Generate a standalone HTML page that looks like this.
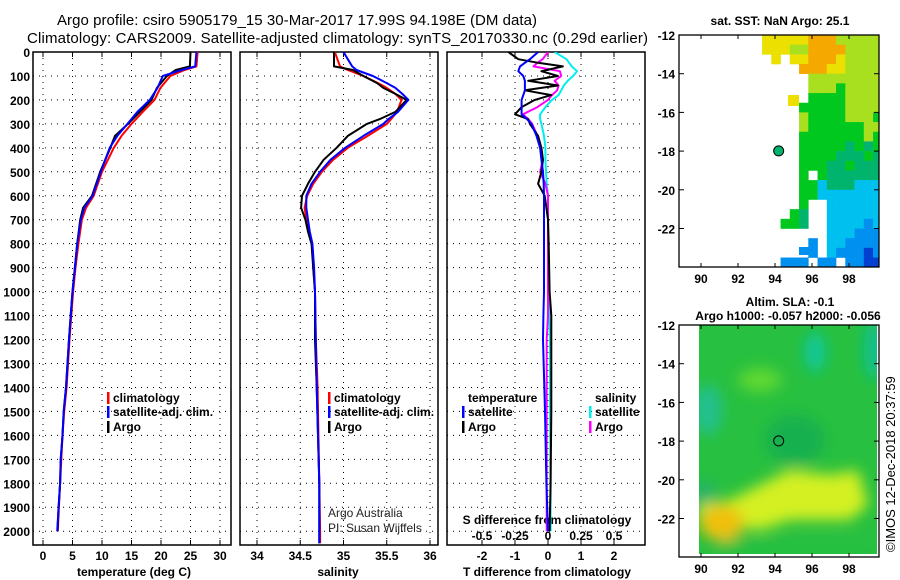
<!DOCTYPE html>
<html><head><meta charset="utf-8"><style>
body{margin:0;background:#fff}
svg{display:block;font-family:"Liberation Sans",sans-serif}
.b{font-weight:bold;font-size:12px}
</style></head><body>
<svg id="s" width="900" height="580" viewBox="0 0 900 580">
<defs>
<clipPath id="cp1"><rect x="33" y="52" width="198" height="493"/></clipPath>
<clipPath id="cp2"><rect x="240" y="52" width="198" height="493"/></clipPath>
<clipPath id="cp3"><rect x="447" y="52" width="198" height="493"/></clipPath>
<clipPath id="cpm"><rect x="699" y="325" width="178" height="229"/></clipPath>
<clipPath id="cps"><rect x="679" y="35" width="200" height="232"/></clipPath>
<filter id="bl" x="-50%" y="-50%" width="200%" height="200%"><feGaussianBlur stdDeviation="7"/></filter>
</defs>
<text x="57" y="25" font-size="15" textLength="480">Argo profile: csiro 5905179_15 30-Mar-2017 17.99S 94.198E (DM data)</text>
<text x="27" y="43" font-size="15" textLength="621">Climatology: CARS2009. Satellite-adjusted climatology: synTS_20170330.nc (0.29d earlier)</text>
<g id="g"></g>
</svg>
<script>
// ---- data ----
const tDepth = [0,60,75,100,150,200,250,300,350,400,500,600,650,700,800,900,1000,1100,1200,1400,1500,1600,1700,1800,1900,2000];
const tArgo  = [25.0,24.9,22.5,21.0,19.3,18.4,16.4,14.4,12.2,11.4,9.7,8.3,6.8,6.3,5.8,5.4,5.0,4.7,4.4,3.9,3.5,3.3,3.0,2.9,2.65,2.45];
const tClim  = [26.2,26.0,24.0,21.6,19.9,18.9,16.9,15.0,13.3,12.0,10.0,8.6,7.3,6.6,6.0,5.5,5.1,4.8,4.5,4.0,3.6,3.3,3.1,2.9,2.7,2.5];
const tSat   = [26.0,25.8,23.5,20.3,19.4,18.1,16.0,14.3,12.6,11.3,9.8,8.4,7.0,6.4,5.8,5.4,5.0,4.7,4.4,3.9,3.5,3.3,3.0,2.9,2.65,2.4];
const sDepth = [0,30,60,75,100,130,150,175,200,250,280,300,350,400,450,500,550,600,650,700,750,800,900,1000,1200,1400,1800,2000,2050];
const sArgo  = [34.89,34.89,34.89,35.11,35.23,35.39,35.46,35.6,35.73,35.6,35.42,35.27,35.05,34.92,34.77,34.67,34.59,34.52,34.51,34.56,34.59,34.63,34.65,34.67,34.67,34.69,34.72,34.72,34.72];
const sClim  = [34.90,34.93,34.96,35.05,35.23,35.4,35.5,35.6,35.67,35.62,35.55,35.5,35.28,35.05,34.88,34.75,34.65,34.58,34.55,34.57,34.6,34.64,34.65,34.67,34.68,34.7,34.72,34.73,34.73];
const sSat   = [35.0,35.05,35.1,35.15,35.34,35.5,35.6,35.68,35.75,35.63,35.52,35.46,35.23,35.02,34.85,34.73,34.63,34.57,34.57,34.59,34.61,34.64,34.66,34.67,34.68,34.69,34.72,34.72,34.72];
const dDepth = [0,30,45,60,80,100,120,140,160,180,200,230,260,280,300,350,400,450,500,550,600,650,700,800,1000,1100,1200,1500,1800,2000];
const dTArgo = [-1.2,-0.9,-0.3,0.45,-0.2,0.3,-0.6,0.3,-0.7,0.1,-0.4,-0.8,-1.0,-0.6,-0.55,-0.3,-0.2,-0.15,-0.2,-0.3,-0.1,-0.05,0,0.02,0.05,0.1,0.1,0.1,0.08,0.05];
const dTSat  = [-0.3,-0.55,-0.7,-0.85,-0.9,-0.75,-0.7,-0.7,-0.7,-0.75,-0.8,-0.8,-0.8,-0.64,-0.5,-0.35,-0.24,-0.2,-0.15,-0.13,-0.12,-0.12,-0.12,-0.12,-0.12,-0.14,-0.15,-0.09,-0.05,0];
const dSArgo = [0,-0.04,-0.08,-0.11,0.09,0.1,0.05,0.08,0.07,0.03,0,-0.08,-0.19,-0.15,-0.12,-0.08,-0.06,-0.04,-0.06,-0.02,0,0,0,0,0,0,-0.01,-0.01,-0.01,-0.01];
const dSSat  = [0.05,0.14,0.16,0.18,0.22,0.19,0.15,0.12,0.1,0.08,0.03,-0.02,-0.06,-0.06,-0.05,-0.03,-0.02,-0.02,-0.015,-0.01,0,0,0,0,0.01,0.01,0.015,0.015,0.02,0.02];
const depthTicks = [0,100,200,300,400,500,600,700,800,900,1000,1100,1200,1300,1400,1500,1600,1700,1800,1900,2000];
const tTicks = [0,5,10,15,20,25,30];
const sTicks = [34,34.5,35,35.5,36];
const sTickLabels = ["34","34.5","35","35.5","36"];
const dTTicks = [-2,-1,0,1,2];
const dSTicks = [-0.5,-0.25,0,0.25,0.5];
const latTicks = [-12,-14,-16,-18,-20,-22];
const lonTicks = [90,92,94,96,98];
// SST grid rows (-12 to -24, 0.5 deg), cols from lon 93.3 in 0.5 deg steps
const sstRows = [
"yyyyyooolllll","yyylloooollll",".y.yyoooyllll","....oooyyllll",".....llllllll",".....lllgllll",".....ggggllll","....gggggllll",
"....lgggglllg","....lggggggll","....ggggggglg","....gggggtgtg","....ggggtttgt","....gggttgttt","....g.gtttttt","....ggctttccc",
"....ggccccccc","....g..cccccc","...gt..cccccc","..ggt..ccccbc",".......cccbbb",".....b.ccbbbb",".....b.cbbbdb","..bbb.bb.bbdd"];
const sstCol = {o:"#f5a800",y:"#ebe000",l:"#a8e020",g:"#00c81e",t:"#00b46e",c:"#00c0f0",b:"#0090f0",d:"#0040d0"};

const NS="http://www.w3.org/2000/svg", G=document.getElementById('g');
function el(t,a,p){const e=document.createElementNS(NS,t);for(const k in a)e.setAttribute(k,a[k]);(p||G).appendChild(e);return e;}
const yD = d => 52 + d*0.2396;
const xT = v => 43 + v*5.9;
const xS = v => 257 + (v-34)*86.5;
const xDT = v => 548 + v*33;
const xDS = v => 548 + v*132;
const xLon = l => 701 + (l-90)*18.5;
const yLat1 = l => 35 + (-12-l)*19.35;
const yLat2 = l => 325 + (-12-l)*19.35;

function panel(x0,name){
  const r=el('rect',{x:x0,y:52,width:198,height:493,fill:'none',stroke:'#000','stroke-width':1.5});
  
  
  depthTicks.forEach(d=>{ if(d>0) el('line',{x1:x0,x2:x0+198,y1:yD(d),y2:yD(d),stroke:'#000','stroke-dasharray':'1 5'}); });
}
panel(33,'temperature-panel'); panel(240,'salinity-panel'); panel(447,'difference-panel');
depthTicks.forEach(d=>{const t=el('text',{x:30,y:yD(d)+5,'text-anchor':'end',class:'b'});t.textContent=d;

});
function xticks(ticks,fx,labels,y){ticks.forEach((v,i)=>{const x=fx(v);
 el('line',{x1:x,x2:x,y1:52,y2:545,stroke:'#000','stroke-dasharray':'1 5'});
 el('line',{x1:x,x2:x,y1:52,y2:57,stroke:'#000'});el('line',{x1:x,x2:x,y1:540,y2:545,stroke:'#000'});
 const t=el('text',{x:x,y:y,'text-anchor':'middle',class:'b'});t.textContent=labels?labels[i]:v;
 
 });}
xticks(tTicks,xT,null,560);
xticks(sTicks,xS,sTickLabels,560);
xticks(dTTicks,xDT,null,560);
dSTicks.forEach(v=>{const t=el('text',{x:xDS(v),y:540,'text-anchor':'middle',class:'b'});t.textContent=v;

});
[['temperature (deg C)',134],['salinity',338],['T difference from climatology',547]].forEach(([s,x])=>{const t=el('text',{x:x,y:576,'text-anchor':'middle',class:'b'});t.textContent=s;

});
{const t=el('text',{x:547,y:524,'text-anchor':'middle',class:'b'});t.textContent='S difference from climatology';

}

function line(depths,vals,fx,col,w,clip,name){
  const pts=depths.map((d,i)=>fx(vals[i]).toFixed(1)+','+yD(d).toFixed(1)).join(' ');
  const p=el('polyline',{points:pts,fill:'none',stroke:col,'stroke-width':w,'clip-path':'url(#'+clip+')','stroke-linejoin':'round'});
  
  
}
line(tDepth,tClim,xT,'#f00',2,'cp1','temp-climatology-line');
line(tDepth,tArgo,xT,'#000',2,'cp1','temp-argo-line');
line(tDepth,tSat,xT,'#00f',2,'cp1','temp-satellite-line');
line(sDepth,sClim,xS,'#f00',2,'cp2','sal-climatology-line');
line(sDepth,sArgo,xS,'#000',2,'cp2','sal-argo-line');
line(sDepth,sSat,xS,'#00f',2,'cp2','sal-satellite-line');
line(dDepth,dSSat,xDS,'#0ee',2,'cp3','s-diff-satellite-line');
line(dDepth,dSArgo,xDS,'#f0f',2,'cp3','s-diff-argo-line');
line(dDepth,dTArgo,xDT,'#000',2,'cp3','t-diff-argo-line');
line(dDepth,dTSat,xDT,'#00f',2,'cp3','t-diff-satellite-line');

function legend(x,y,col,txt,name){
  if(col) el('rect',{x:x,y:y-10,width:2.5,height:12,fill:col});
  const t=el('text',{x:x+6,y:y,class:'b'});t.textContent=txt;
  
  
}
legend(107,402,'#f00','climatology','legend-climatology');
legend(107,416,'#00f','satellite-adj. clim.','legend-satellite-adj');
legend(107,431,'#000','Argo','legend-argo');
legend(328,402,'#f00','climatology','legend-climatology-2');
legend(328,416,'#00f','satellite-adj. clim.','legend-satellite-adj-2');
legend(328,431,'#000','Argo','legend-argo-2');
legend(462,402,null,'temperature','legend-temperature-header');
legend(462,416,'#00f','satellite','legend-t-satellite');
legend(462,431,'#000','Argo','legend-t-argo');
legend(589,402,null,'salinity','legend-salinity-header');
legend(589,416,'#0ee','satellite','legend-s-satellite');
legend(589,431,'#f0f','Argo','legend-s-argo');
[['Argo Australia',517],['PI: Susan Wijffels',532]].forEach(([s,y])=>{const t=el('text',{x:328,y:y,'font-size':12,fill:'#222'});t.textContent=s;

});

// ---- SST map ----
{const t=el('text',{x:780,y:25,'text-anchor':'middle',class:'b'});t.textContent='sat. SST: NaN Argo: 25.1';

}
const sg=el('g',{'clip-path':'url(#cps)'});
sstRows.forEach((row,r)=>{for(let c=0;c<row.length;c++){const ch=row[c];if(ch==='.')continue;
 const x=xLon(93.3+c*0.5), y=yLat1(-12-r*0.5), w=xLon(93.8+c*0.5)-x, h=yLat1(-12.5-r*0.5)-y;
 const cell=el('rect',{x:x,y:y,width:w+0.3,height:h+0.3,fill:sstCol[ch]},sg);
 
 }});
el('rect',{x:788,y:95,width:11,height:11,fill:'#ebe000'});
el('rect',{x:799,y:247,width:15,height:8,fill:'#0090f0'});
function mapAxes(yL,top,bot,name){
 const r=el('rect',{x:679,y:top,width:200,height:bot-top,fill:'none',stroke:'#000','stroke-width':1.3});
 
 
 latTicks.forEach(l=>{const y=yL(l);el('line',{x1:679,x2:684,y1:y,y2:y,stroke:'#000'});el('line',{x1:874,x2:879,y1:y,y2:y,stroke:'#000'});
  const t=el('text',{x:675,y:y+5,'text-anchor':'end',class:'b'});t.textContent=l;
  
  });
 lonTicks.forEach(l=>{const x=xLon(l);el('line',{x1:x,x2:x,y1:top,y2:top+4,stroke:'#000'});el('line',{x1:x,x2:x,y1:bot-4,y2:bot,stroke:'#000'});
  const t=el('text',{x:x,y:bot+16,'text-anchor':'middle',class:'b'});t.textContent=l;
  
  });
}
mapAxes(yLat1,35,267,'sst-map');
{const c=el('circle',{cx:xLon(94.198),cy:yLat1(-17.99),r:5,fill:'#00b46e',stroke:'#000','stroke-width':1});

}

// ---- SLA map ----
[['Altim. SLA: -0.1',790,306],['Argo h1000: -0.057 h2000: -0.056',788,320]].forEach(([s,x,y])=>{const t=el('text',{x:x,y:y,'text-anchor':'middle',class:'b'});t.textContent=s;

});
const mg=el('g',{'clip-path':'url(#cpm)'});
el('rect',{x:699,y:325,width:178,height:229,fill:'#28c040'},mg);
const bg=el('g',{filter:'url(#bl)'},mg);
[[708,410,14,25,'#20c090'],[815,352,10,20,'#10c8a0'],[874,350,10,30,'#10c090'],[760,380,22,12,'#60d830'],[795,440,30,25,'#18b050'],[705,500,10,20,'#20b070']].forEach(a=>el('ellipse',{cx:a[0],cy:a[1],rx:a[2],ry:a[3],fill:a[4]},bg));
el('polygon',{points:'699,505 730,500 760,485 790,470 830,475 858,470 868,505 850,520 790,520 760,530 730,525 699,530',fill:'#d4f020'},bg);
el('ellipse',{cx:722,cy:523,rx:22,ry:18,fill:'#f0c010'},bg);
el('rect',{x:720,y:540,width:160,height:20,fill:'#28c040'},bg);
mapAxes(yLat2,325,557,'sla-map');
el('circle',{cx:xLon(94.198),cy:yLat2(-17.99),r:5,fill:'none',stroke:'#000','stroke-width':1});
{const t=el('text',{x:0,y:0,'font-size':13,transform:'translate(895,552) rotate(-90)'});t.textContent='©IMOS 12-Dec-2018 20:37:59';

}
</script>
</body></html>
